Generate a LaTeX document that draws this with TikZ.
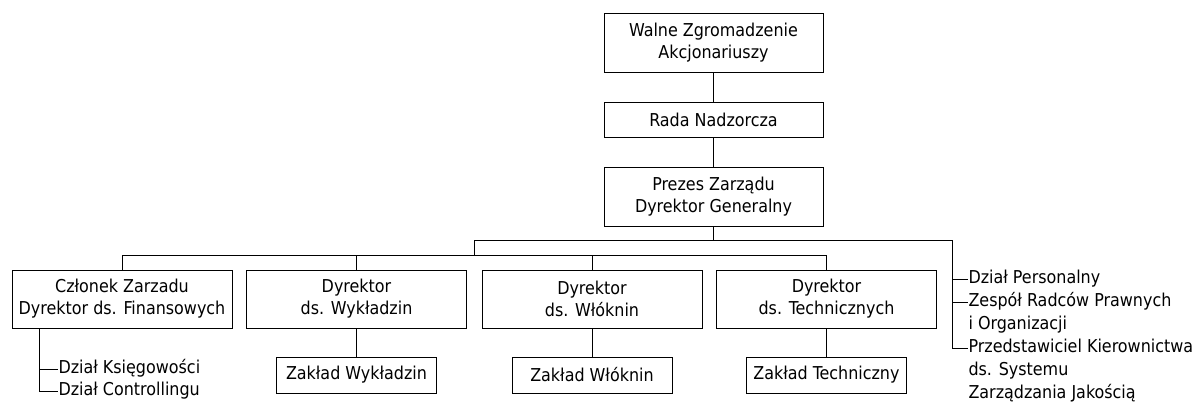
\documentclass[tikz,border=0pt]{standalone}
\usepackage{fontspec}
\setmainfont{DejaVu Sans Condensed}
\def\ux{0.75pt}
\tikzset{
     unit/.style={draw, rectangle, align=center, inner sep=0pt},
     unit1/.style={unit, minimum width=219*\ux, minimum height=59*\ux},
     unit2/.style={unit, minimum width=219*\ux, minimum height=35*\ux},
     unit3/.style={unit, minimum width=220*\ux, minimum height=58*\ux},
     unit4/.style={unit, minimum width=160*\ux, minimum height=36*\ux},
     item/.style={anchor=west, inner sep=0pt, text height=0.73em, text depth=0pt},
}

\begin{document}
\begin{tikzpicture}[x=\ux, y=-\ux, line width=0.75pt, font=\fontsize{13.3}{16.4}\selectfont]
  \useasboundingbox (0,0) rectangle (1199,405);

  % top of the chart
  \node[unit1] (walne) at (713.5,42.5) {Walne Zgromadzenie\\Akcjonariuszy};
  \node[unit2] (rada) at (713.5,119.5) {Rada Nadzorcza};
  \node[unit1] (prezes) at (713.5,197) {Prezes Zarządu\\Dyrektor Generalny};
  \draw (walne) -- (rada);
  \draw (rada) -- (prezes);

  % directors
  \foreach \x/\n/\t in {122/fin/{Członek Zarzadu\\Dyrektor ds. Finansowych},
                        356.5/wyk/{Dyrektor\\ds. Wykładzin},
                        592/wlo/{Dyrektor\\ds. Włóknin},
                        826.5/tech/{Dyrektor\\ds. Technicznych}}{
	\node[unit3] (\n) at (\x,299) {\t};
  }

  \coordinate (j1) at (474,240);
  \coordinate (j2) at (952,240);
  \coordinate (low) at (474,255);
  \draw (prezes.south) -- (prezes.south |- j1);
  \draw (j1) -- (j2);
  \draw (j1) -- (low);
  \draw (fin.north) -- (fin.north |- low) -- (tech.north |- low) -- (tech.north);
  \foreach \n in {wyk,wlo}{
	\draw (\n.north) -- (\n.north |- low);
  }

  % plants
  \foreach \x/\n/\t in {356.5/wyk/Zakład Wykładzin, 592/wlo/Zakład Włóknin, 826.5/tech/Zakład Techniczny}{
	\node[unit4] (z\n) at (\x,375) {\t};
	\draw (\n) -- (z\n);
  }

  % finance departments
  \coordinate (fl) at (39,0);
  \node[item] (ksieg) at (58,369) {Dział Księgowości};
  \node[item] (contr) at (58,391) {Dział Controllingu};
  \draw (fin.south -| fl) |- (contr.west);
  \draw (fl |- ksieg.west) -- (ksieg.west);

  % staff units
  \node[item] (pers) at (968,279) {Dział Personalny};
  \node[item] (zesp) at (968,302) {Zespół Radców Prawnych};
  \node[item] (org) at (968,325) {i Organizacji};
  \node[item] (przed) at (968,348) {Przedstawiciel Kierownictwa};
  \node[item] (sys) at (968,371) {ds. Systemu};
  \node[item] (jak) at (968,394) {Zarządzania Jakością};
  \draw (j2) |- (przed.west);
  \draw (j2 |- pers.west) -- (pers.west);
  \draw (j2 |- zesp.west) -- (zesp.west);
\end{tikzpicture}
\end{document}
